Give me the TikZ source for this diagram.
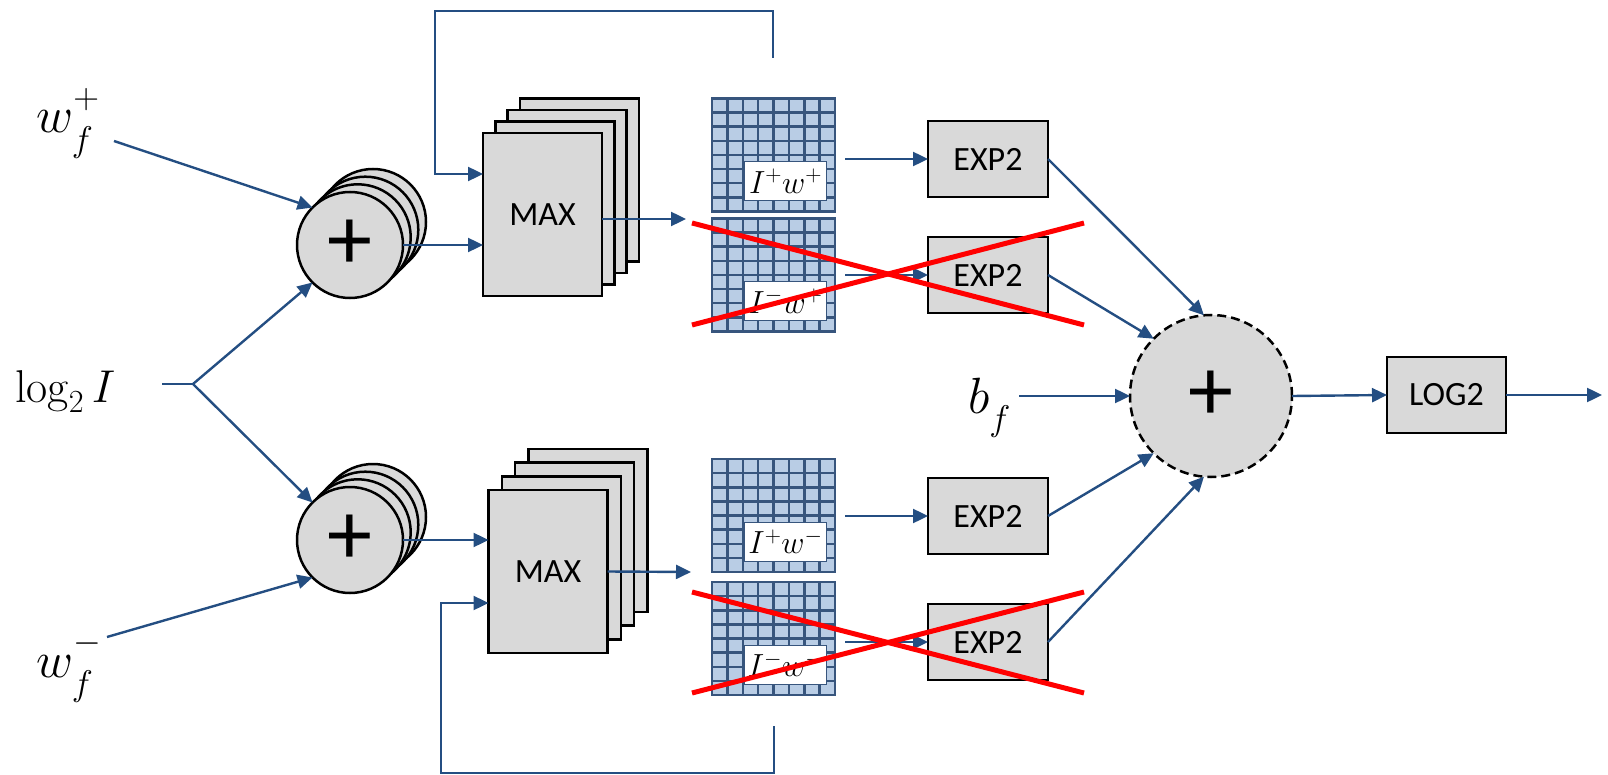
\RequirePackage{fix-cm}
\documentclass[tikz,border=0pt]{standalone}
\usepackage{fontspec}
\setsansfont{Carlito}
\usetikzlibrary{arrows.meta,calc}

\definecolor{flowblue}{RGB}{36,78,130}
\definecolor{boxgray}{RGB}{217,217,217}
\definecolor{gridfill}{RGB}{185,205,229}
\definecolor{gridline}{RGB}{55,85,125}

\tikzset{
  flow/.style={draw=flowblue, line width=2.4pt, -{Triangle[length=15pt,width=14pt]}},
  wire/.style={draw=flowblue, line width=2.4pt},
  unit/.style={rectangle, draw=black, fill=boxgray, line width=2.5pt, inner sep=0pt, outer sep=0pt,
    font=\sffamily\fontsize{34}{40}\selectfont},
  maxsheet/.style={unit, minimum width=119pt, minimum height=163pt},
  opbox/.style={unit, minimum width=120pt, minimum height=76pt},
  adder/.style={circle, draw=black, fill=boxgray, line width=2.5pt, minimum size=106pt,
    inner sep=0pt, outer sep=0pt, font=\sffamily\fontsize{90}{90}\selectfont},
  sumnode/.style={adder, minimum size=162pt, dash pattern=on 9pt off 5pt},
  fmapbox/.style={rectangle, draw=gridline, fill=gridfill, line width=2.6pt, inner sep=0pt,
    outer sep=0pt, minimum width=123pt, minimum height=113pt},
  fmapline/.style={draw=gridline, line width=2.5pt},
  fmaptag/.style={rectangle, draw=gridline, fill=white, line width=1pt, inner sep=0pt,
    minimum width=82pt, minimum height=39pt, font=\fontsize{32}{34}\selectfont},
  strike/.style={draw=red, line width=5pt},
  symb/.style={inner sep=0pt, font=\fontsize{46}{50}\selectfont},
  bigsymb/.style={inner sep=0pt, font=\fontsize{51}{56}\selectfont},
}

% a feature map: 8x8 cells with a caption box in its lower right corner
\newcommand\cellblock[4]{%
  \node[fmapbox] (#1) at (#2,#3) {};
  \foreach \k in {1,...,7}{
    \draw[fmapline] ($(#1.north west)!\k/8!(#1.north east)$) -- ($(#1.south west)!\k/8!(#1.south east)$);
    \draw[fmapline] ($(#1.north west)!\k/8!(#1.south west)$) -- ($(#1.north east)!\k/8!(#1.south east)$);
  }
  \node[fmaptag, anchor=south east] (#1tag) at ($(#1.south east)+(-8,-10.5)$) {#4};
}
% weight symbol with its sign set well above the subscript
\newcommand\wsign[1]{w_{\raisebox{-0.12em}{$\scriptstyle f$}}^{\raisebox{0.12em}{$\scriptstyle #1$}}}

\begin{document}
\begin{tikzpicture}[x=1pt,y=-1pt]
\useasboundingbox (0,0) rectangle (1608,775);

% input symbols
\node[bigsymb, anchor=base west] (wp) at (36,133) {$\wsign{+}$};
\node[bigsymb, anchor=base west] (wm) at (36,677) {$\wsign{-}$};
\node[symb, anchor=base west] (logI) at (15,402) {$\log_2 I$};
\node[bigsymb, anchor=base west] (bf) at (968,413) {$b_{\raisebox{-0.2em}{$\scriptstyle f$}}$};

% stacks of adders
\node[adder] (c1d) at (373,222) {};
\node[adder] (c1c) at (365.3,229.7) {};
\node[adder] (c1b) at (357.7,237.3) {};
\node[adder] (c1a) at (350,245) {+};
\node[adder] (c2d) at (373,517) {};
\node[adder] (c2c) at (365.3,524.7) {};
\node[adder] (c2b) at (357.7,532.3) {};
\node[adder] (c2a) at (350,540) {+};

% stacks of MAX units
\node[maxsheet] (mA3) at (579.4,180) {};
\node[maxsheet] (mA2) at (567.1,191.5) {};
\node[maxsheet] (mA1) at (554.8,203) {};
\node[maxsheet] (mA) at (542.5,214.5) {MAX};
\node[maxsheet] (mB3) at (587.9,530.4) {};
\node[maxsheet] (mB2) at (574.6,544.1) {};
\node[maxsheet] (mB1) at (561.3,557.8) {};
\node[maxsheet] (mB) at (548,571.5) {MAX};

% feature maps
\cellblock{g1}{773.5}{155}{$I^+w^+$}
\cellblock{g2}{773.5}{275}{$I^-w^+$}
\cellblock{g3}{773.5}{515.5}{$I^+w^-$}
\cellblock{g4}{773.5}{638.5}{$I^-w^-$}

% exponentials, final sum and log
\node[opbox] (e1) at (988,159) {EXP2};
\node[opbox] (e2) at (988,275) {EXP2};
\node[opbox] (e3) at (988,516) {EXP2};
\node[opbox] (e4) at (988,642) {EXP2};
\node[sumnode] (sum) at (1211,396) {+};
\node[opbox, minimum width=119pt] (lg) at (1446.5,395) {LOG2};

% free ends of connectors
\coordinate (wpS) at (114,141);
\coordinate (wmS) at (107,637);
\coordinate (lstart) at (162,384);
\coordinate (split) at (193,384);
\coordinate (gA) at (686,219);
\coordinate (gB) at (691,572);
\coordinate (fbT) at (773,58);
\coordinate (fbB) at (774,726);
\coordinate (outEnd) at (1602,395);

% inputs to the adders
\draw[flow] (wpS) -- (c1a.135);
\draw[wire] (lstart) -- (split);
\draw[flow] (split) -- (c1a.225);
\draw[flow] (split) -- (c2a.135);
\draw[flow] (wmS) -- (c2a.225);

% adders to MAX
\draw[flow] (c1a.east) -- (c1a.east -| mA.west);
\draw[flow] (c2a.east) -- (c2a.east -| mB.west);

% feedback loops
\draw[flow] (fbT) -- (773,11) -- (435,11) -- (435,174) -- ($(mA.west)+(0,-40.5)$);
\draw[flow] (fbB) -- (774,773) -- (441,773) -- (441,603) -- ($(mB.west)+(0,31.5)$);

% MAX outputs
\draw[flow] ($(mA.east)+(0,4.5)$) -- (gA);
\draw[flow] (mB.east) -- (gB);

% feature maps to exponentials
\draw[flow] ($(g1.east |- e1.west)+(10,0)$) -- (e1.west);
\draw[flow] ($(g2.east |- e2.west)+(10,0)$) -- (e2.west);
\draw[flow] ($(g3.east |- e3.west)+(10,0)$) -- (e3.west);
\draw[flow] ($(g4.east |- e4.west)+(10,0)$) -- (e4.west);

% exponentials into the sum
\draw[flow] (e1.east) -- (sum.95);
\draw[flow] (e2.east) -- (sum.135);
\draw[flow] (e3.east) -- (sum.225);
\draw[flow] (e4.east) -- (sum.265);
\draw[flow] ($(bf.east |- sum.west)+(8,0)$) -- (sum.west);

% output
\draw[flow] (sum.east) -- (lg.west);
\draw[flow] (lg.east) -- (outEnd);

% discarded branches
\draw[strike] (692,223) -- (1084,325);
\draw[strike] (692,325) -- (1084,223);
\draw[strike] (692,592) -- (1084,693);
\draw[strike] (692,693) -- (1084,592);
\end{tikzpicture}
\end{document}
